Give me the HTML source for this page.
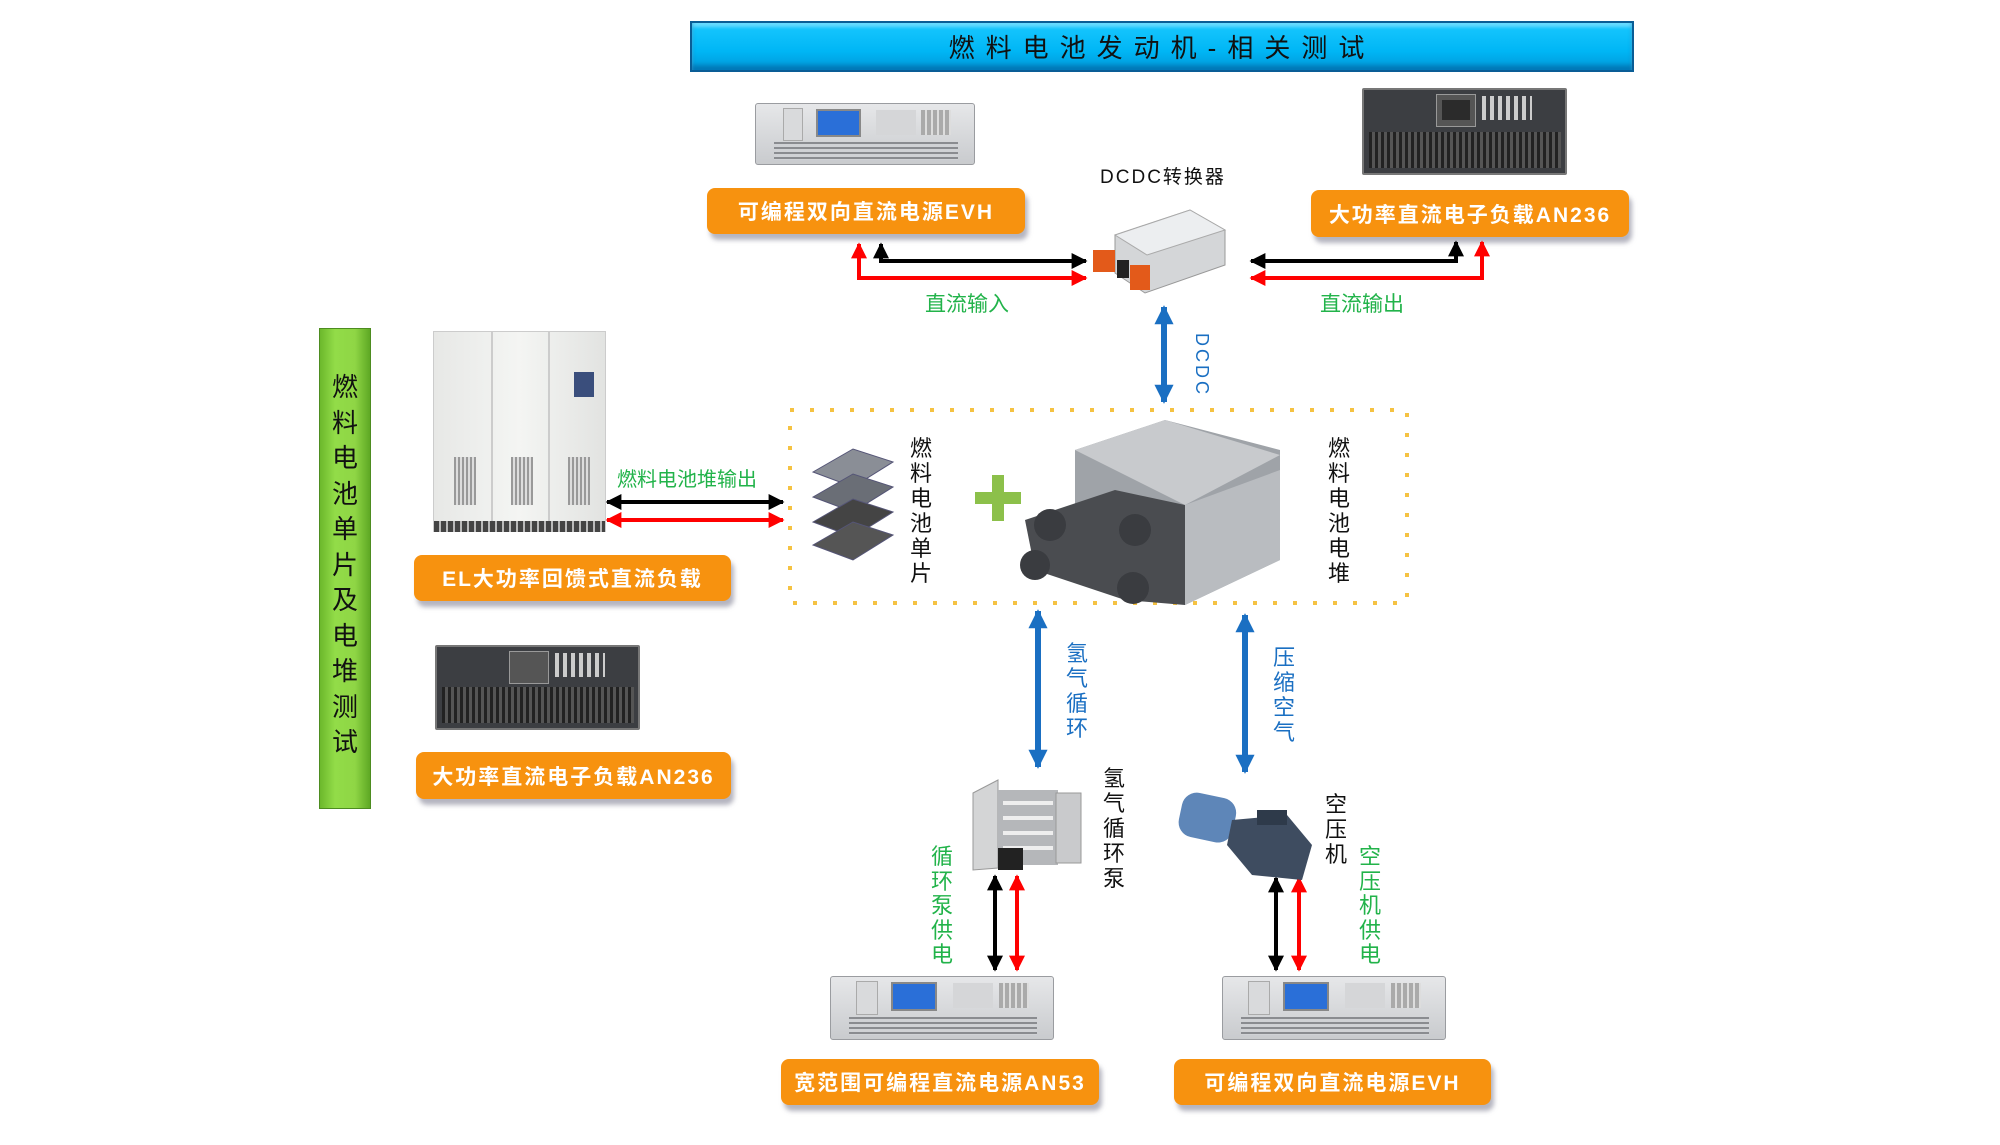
<!DOCTYPE html>
<html><head><meta charset="utf-8"><style>
*{margin:0;padding:0;box-sizing:border-box}
body{width:2000px;height:1145px;background:#fff;position:relative;overflow:hidden;font-family:"Liberation Sans","Noto Sans CJK SC",sans-serif}
.a{position:absolute}
.ob{position:absolute;background:#f7920f;border-radius:8px;color:#fff;font-weight:bold;font-size:21px;letter-spacing:2px;display:flex;align-items:center;justify-content:center;box-shadow:3px 6px 5px rgba(120,120,140,.55)}
.vt{position:absolute;width:30px;text-align:center;font-size:22px;line-height:25px}
.g{color:#22b34a}.b{color:#1a6fc2}.k{color:#111}
.psu{position:absolute;background:linear-gradient(#e6e7e9,#c9cbce);border:1px solid #9a9ca0;border-radius:3px}
.psu .scr{position:absolute;background:#2a6fd8;border:2px solid #888}
.psu .gr{position:absolute;background:repeating-linear-gradient(#8a8c90 0 2px,#d0d2d5 2px 5px)}
.load{position:absolute;background:#3c3e42;border:2px solid #777;border-radius:2px}
.load .gr{position:absolute;background:repeating-linear-gradient(90deg,#222 0 3px,#555 3px 6px)}
</style></head><body>

<!-- banner -->
<div class="a" style="left:690px;top:21px;width:944px;height:51px;background:linear-gradient(#19c8ff,#00b6f5 60%,#0098d8);border:2px solid #0a5d96;box-shadow:inset 0 -5px 4px rgba(0,60,120,.35),inset 0 4px 3px rgba(255,255,255,.35);display:flex;align-items:center;justify-content:center;font-size:26px;letter-spacing:11px;color:#111">燃料电池发动机-相关测试</div>

<!-- green sidebar -->
<div class="a" style="left:319px;top:328px;width:52px;height:481px;background:linear-gradient(90deg,#6cb82c,#92dc48 30%,#8fd645 70%,#5ea824);border:1px solid #4d8c20"></div>
<div class="vt k" style="left:330px;top:370px;font-size:26px;line-height:35.5px">燃料电池单片及电堆测试</div>

<!-- top EVH -->
<div class="psu" style="left:755px;top:103px;width:220px;height:62px">
 <div class="a" style="left:27px;top:4px;width:20px;height:33px;background:#d9dadc;border:1px solid #aaa"></div>
 <div class="scr" style="left:60px;top:5px;width:45px;height:28px"></div>
 <div class="a" style="left:120px;top:6px;width:40px;height:25px;background:#d5d6d8"></div>
 <div class="a" style="left:165px;top:6px;width:30px;height:25px;background:repeating-linear-gradient(90deg,#aaa 0 4px,#ddd 4px 6px)"></div>
 <div class="gr" style="left:18px;top:38px;width:184px;height:18px"></div>
</div>
<div class="ob" style="left:707px;top:188px;width:318px;height:46px">可编程双向直流电源EVH</div>

<!-- top AN236 -->
<div class="load" style="left:1362px;top:88px;width:205px;height:87px">
 <div class="a" style="left:72px;top:4px;width:40px;height:33px;background:#555;border:1px solid #999"></div>
 <div class="a" style="left:78px;top:10px;width:28px;height:20px;background:#2b2b2b"></div>
 <div class="a" style="left:118px;top:6px;width:50px;height:24px;background:repeating-linear-gradient(90deg,#ccc 0 4px,#3c3e42 4px 8px)"></div>
 <div class="gr" style="left:5px;top:42px;width:192px;height:36px"></div>
</div>
<div class="ob" style="left:1311px;top:190px;width:318px;height:47px">大功率直流电子负载AN236</div>

<div class="a k" style="left:1098px;top:162px;width:130px;text-align:center;font-size:19px;letter-spacing:2px">DCDC转换器</div>
<!-- DCDC device -->
<svg class="a" style="left:1085px;top:205px" width="165" height="92">
 <polygon points="30,30 105,5 140,25 140,60 60,88 30,68" fill="#d4d6d8" stroke="#999"/>
 <polygon points="30,30 105,5 140,25 62,50" fill="#eceef0" stroke="#aaa"/>
 <rect x="8" y="45" width="22" height="22" fill="#e35a1a"/>
 <rect x="45" y="60" width="20" height="25" fill="#e35a1a"/>
 <rect x="32" y="55" width="12" height="18" fill="#222"/>
</svg>

<!-- main arrows svg -->
<svg class="a" style="left:0;top:0" width="2000" height="1145">
 <defs>
  <marker id="mk" viewBox="0 0 10 10" refX="9" refY="5" markerWidth="4" markerHeight="4" orient="auto-start-reverse"><path d="M0,0L10,5L0,10z" fill="#000"/></marker>
  <marker id="mr" viewBox="0 0 10 10" refX="9" refY="5" markerWidth="4" markerHeight="4" orient="auto-start-reverse"><path d="M0,0L10,5L0,10z" fill="#f00"/></marker>
  <marker id="mb" viewBox="0 0 10 10" refX="9" refY="5" markerWidth="3.2" markerHeight="3.2" orient="auto-start-reverse"><path d="M0,0L10,5L0,10z" fill="#1a6fc2"/></marker>
 </defs>
 <g stroke-width="4" fill="none">
  <polyline points="881,244 881,261 1086,261" stroke="#000" marker-start="url(#mk)" marker-end="url(#mk)"/>
  <polyline points="859,244 859,278 1086,278" stroke="#f00" marker-start="url(#mr)" marker-end="url(#mr)"/>
  <polyline points="1456,242 1456,261 1251,261" stroke="#000" marker-start="url(#mk)" marker-end="url(#mk)"/>
  <polyline points="1482,242 1482,278 1251,278" stroke="#f00" marker-start="url(#mr)" marker-end="url(#mr)"/>
  <line x1="607" y1="502" x2="783" y2="502" stroke="#000" marker-start="url(#mk)" marker-end="url(#mk)"/>
  <line x1="607" y1="520" x2="783" y2="520" stroke="#f00" marker-start="url(#mr)" marker-end="url(#mr)"/>
  <line x1="995" y1="876" x2="995" y2="970" stroke="#000" marker-start="url(#mk)" marker-end="url(#mk)"/>
  <line x1="1017" y1="876" x2="1017" y2="970" stroke="#f00" marker-start="url(#mr)" marker-end="url(#mr)"/>
  <line x1="1276" y1="878" x2="1276" y2="970" stroke="#000" marker-start="url(#mk)" marker-end="url(#mk)"/>
  <line x1="1299" y1="878" x2="1299" y2="970" stroke="#f00" marker-start="url(#mr)" marker-end="url(#mr)"/>
 </g>
 <g stroke="#1a6fc2" stroke-width="6" fill="none">
  <line x1="1164" y1="307" x2="1164" y2="402" marker-start="url(#mb)" marker-end="url(#mb)"/>
  <line x1="1038" y1="611" x2="1038" y2="767" marker-start="url(#mb)" marker-end="url(#mb)"/>
  <line x1="1245" y1="615" x2="1245" y2="772" marker-start="url(#mb)" marker-end="url(#mb)"/>
 </g>
 <rect x="790" y="410" width="617" height="193" fill="none" stroke="#f5c242" stroke-width="4" stroke-dasharray="4,16"/>
</svg>

<div class="a g" style="left:925px;top:288px;font-size:21px">直流输入</div>
<div class="a g" style="left:1320px;top:288px;font-size:21px">直流输出</div>
<div class="a b" style="left:1188px;top:333px;font-size:18px;letter-spacing:3px;transform:rotate(90deg);transform-origin:left top;margin-left:24px">DCDC</div>

<!-- cabinet -->
<div class="a" style="left:433px;top:331px;width:173px;height:201px;background:linear-gradient(90deg,#e7e8e6,#f4f5f3 50%,#e2e3e1);border:1px solid #ccc">
 <div class="a" style="left:57px;top:0;width:2px;height:190px;background:#ccc"></div>
 <div class="a" style="left:114px;top:0;width:2px;height:190px;background:#ccc"></div>
 <div class="a" style="left:140px;top:40px;width:20px;height:25px;background:#3a4e7c"></div>
 <div class="a" style="left:20px;top:125px;width:22px;height:48px;background:repeating-linear-gradient(90deg,#999 0 2px,#ddd 2px 4px)"></div>
 <div class="a" style="left:77px;top:125px;width:22px;height:48px;background:repeating-linear-gradient(90deg,#999 0 2px,#ddd 2px 4px)"></div>
 <div class="a" style="left:134px;top:125px;width:22px;height:48px;background:repeating-linear-gradient(90deg,#999 0 2px,#ddd 2px 4px)"></div>
 <div class="a" style="left:0;top:189px;width:171px;height:11px;background:repeating-linear-gradient(90deg,#444 0 5px,#bbb 5px 7px)"></div>
</div>
<div class="a g" style="left:617px;top:463px;font-size:20px">燃料电池堆输出</div>
<div class="ob" style="left:414px;top:555px;width:317px;height:46px">EL大功率回馈式直流负载</div>

<!-- left AN236 -->
<div class="load" style="left:435px;top:645px;width:205px;height:85px">
 <div class="a" style="left:72px;top:4px;width:40px;height:33px;background:#555;border:1px solid #999"></div>
 <div class="a" style="left:118px;top:6px;width:50px;height:24px;background:repeating-linear-gradient(90deg,#ccc 0 4px,#3c3e42 4px 8px)"></div>
 <div class="gr" style="left:5px;top:40px;width:192px;height:36px"></div>
</div>
<div class="ob" style="left:416px;top:752px;width:315px;height:47px">大功率直流电子负载AN236</div>

<!-- fuel cell plates -->
<svg class="a" style="left:808px;top:447px" width="90" height="120">
 <g stroke="#557" fill="#8a8e96">
  <polygon points="5,25 45,2 85,15 45,40"/>
  <polygon points="5,50 45,27 85,40 45,65" fill="#6a6e76"/>
  <polygon points="5,75 45,52 85,65 45,90" fill="#444"/>
  <polygon points="5,98 45,75 85,88 45,113" fill="#555"/>
 </g>
</svg>
<div class="vt k" style="left:906px;top:436px">燃料电池单片</div>
<div class="a" style="left:975px;top:492px;width:46px;height:12px;background:#8cc04a"></div>
<div class="a" style="left:992px;top:475px;width:12px;height:46px;background:#8cc04a"></div>

<!-- stack -->
<svg class="a" style="left:1015px;top:410px" width="270" height="200">
 <polygon points="60,40 150,10 265,40 265,150 170,195 60,150" fill="#9fa3a8"/>
 <polygon points="170,95 265,60 265,150 170,195" fill="#b9bcc0"/>
 <polygon points="60,40 150,10 265,45 170,95" fill="#c8cacd"/>
 <polygon points="10,110 100,80 170,95 170,195 110,190 20,160" fill="#4a4c50"/>
 <circle cx="35" cy="115" r="16" fill="#3a3c40"/><circle cx="20" cy="155" r="15" fill="#3a3c40"/>
 <circle cx="120" cy="120" r="16" fill="#3a3c40"/><circle cx="118" cy="178" r="16" fill="#3a3c40"/>
</svg>
<div class="vt k" style="left:1324px;top:436px">燃料电池电堆</div>

<div class="vt b" style="left:1062px;top:641px">氢气循环</div>
<div class="vt b" style="left:1269px;top:645px">压缩空气</div>

<!-- H2 pump -->
<svg class="a" style="left:968px;top:778px" width="118" height="98">
 <polygon points="5,15 30,2 30,90 5,92" fill="#d4d5d6" stroke="#999"/>
 <rect x="30" y="12" width="60" height="75" fill="#b5b7ba"/>
 <g stroke="#eee" stroke-width="4"><line x1="35" y1="25" x2="85" y2="25"/><line x1="35" y1="40" x2="85" y2="40"/><line x1="35" y1="55" x2="85" y2="55"/><line x1="35" y1="70" x2="85" y2="70"/></g>
 <rect x="88" y="15" width="25" height="70" fill="#c9cacc" stroke="#999"/>
 <rect x="30" y="70" width="25" height="22" fill="#222"/>
</svg>
<div class="vt k" style="left:1099px;top:766px">氢气循环泵</div>

<!-- compressor -->
<svg class="a" style="left:1172px;top:785px" width="150" height="100">
 <rect x="8" y="10" width="55" height="45" rx="15" fill="#5e86b8" transform="rotate(12 35 32)"/>
 <polygon points="60,35 115,30 140,60 130,95 80,90 55,60" fill="#3e4c60"/>
 <rect x="85" y="25" width="30" height="15" fill="#2e3a4a"/>
</svg>
<div class="vt k" style="left:1321px;top:792px">空压机</div>

<div class="vt g" style="left:927px;top:845px;line-height:24.5px">循环泵供电</div>
<div class="vt g" style="left:1355px;top:845px;line-height:24.5px">空压机供电</div>

<!-- bottom PSUs -->
<div class="psu" style="left:830px;top:976px;width:224px;height:64px">
 <div class="a" style="left:25px;top:4px;width:22px;height:34px;background:#d9dadc;border:1px solid #aaa"></div>
 <div class="scr" style="left:60px;top:5px;width:46px;height:29px"></div>
 <div class="a" style="left:122px;top:6px;width:40px;height:25px;background:#d5d6d8"></div>
 <div class="a" style="left:168px;top:6px;width:30px;height:25px;background:repeating-linear-gradient(90deg,#aaa 0 4px,#ddd 4px 6px)"></div>
 <div class="gr" style="left:18px;top:40px;width:188px;height:18px"></div>
</div>
<div class="psu" style="left:1222px;top:976px;width:224px;height:64px">
 <div class="a" style="left:25px;top:4px;width:22px;height:34px;background:#d9dadc;border:1px solid #aaa"></div>
 <div class="scr" style="left:60px;top:5px;width:46px;height:29px"></div>
 <div class="a" style="left:122px;top:6px;width:40px;height:25px;background:#d5d6d8"></div>
 <div class="a" style="left:168px;top:6px;width:30px;height:25px;background:repeating-linear-gradient(90deg,#aaa 0 4px,#ddd 4px 6px)"></div>
 <div class="gr" style="left:18px;top:40px;width:188px;height:18px"></div>
</div>
<div class="ob" style="left:781px;top:1059px;width:318px;height:46px">宽范围可编程直流电源AN53</div>
<div class="ob" style="left:1174px;top:1059px;width:317px;height:46px">可编程双向直流电源EVH</div>

</body></html>
